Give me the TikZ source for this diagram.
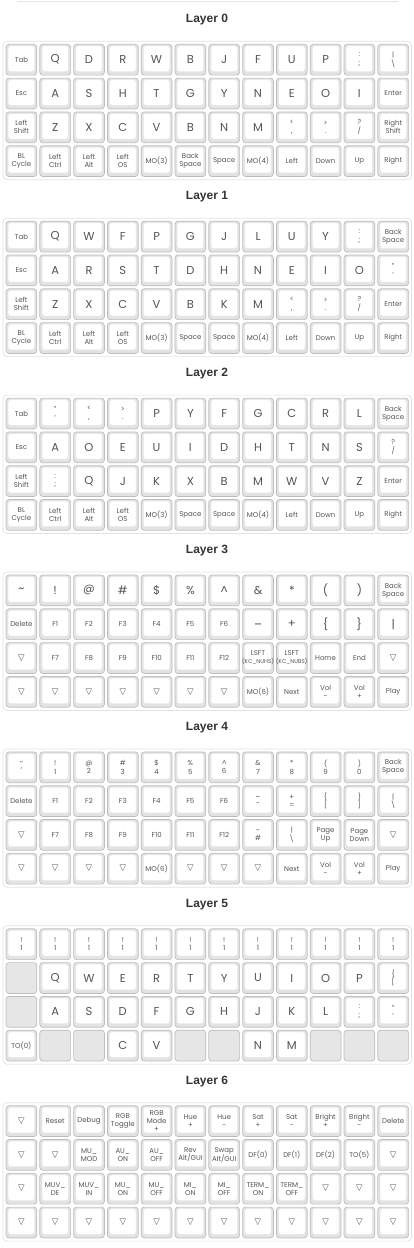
\documentclass[tikz,border=0pt]{standalone}
\usepackage{fontspec}
\setmainfont{Poppins}
\newfontfamily\titlefont{Liberation Sans}
\newfontfamily\symfont{DejaVu Sans}
\definecolor{keyedge}{HTML}{BDBDBD}
\definecolor{keyside}{HTML}{E3E3E3}
\definecolor{facegray}{HTML}{E9E9E9}
\definecolor{keytext}{HTML}{555555}
\definecolor{paneledge}{HTML}{E2E2E2}
\definecolor{titletext}{HTML}{333333}
\definecolor{blankfill}{HTML}{E6E6E6}
\definecolor{hrcol}{HTML}{E4E4E4}

\newcommand\Kb[1]{{\fontsize{11.5}{13}\selectfont #1}}
\newcommand\Kd[2]{#1\\[0.5pt]#2}
\newcommand\Kt{{\symfont\fontsize{8.5}{10}\selectfont ▽}}
\newcommand\Kn[1]{\makebox[0pt]{\fontsize{5.6}{8}\selectfont #1}}
\newcommand\Kx{}
\def\Kxmark{\Kx}

\tikzset{
  keybase/.style={draw=keyedge, rounded corners=3pt, minimum width=30.8pt,
    minimum height=30.8pt, inner sep=0pt, line width=0.7pt},
  key/.style={keybase, fill=keyside, text=keytext, align=center,
    font=\fontsize{7}{8}\selectfont,
    path picture={\filldraw[white, draw=facegray, line width=0.5pt, rounded corners=2.5pt]
      ([shift={(2.2pt,-1.6pt)}]path picture bounding box.north west) rectangle
      ([shift={(-2.2pt,3.6pt)}]path picture bounding box.south east);}},
  blankkey/.style={keybase, fill=blankfill},
  panel/.style={draw=paneledge, fill=white, rounded corners=4pt, line width=0.7pt,
    minimum width=408.5pt, minimum height=138.4pt, inner sep=0pt},
  title/.style={font=\titlefont\bfseries\fontsize{12}{14}\selectfont, text=titletext, inner sep=0pt},
  hrline/.style={draw=hrcol, line width=0.8pt}
}

\newcommand\layerbox[1]{%
  \node[title] (t#1) at (207,{20+176.9*#1}) {Layer #1};
  \node[panel] (p#1) at (207.25,{110.5+176.9*#1}) {};
}
\newcommand\keyrow[3]{%
  \foreach \lab [count=\kc] in {#3}{%
    \ifx\lab\Kxmark
      \node[blankkey] (k-#1-#2-\kc) at ({21.4+33.8*(\kc-1)},{59.7+176.9*#1+33.8*(#2-1)}) {};
    \else
      \node[key] (k-#1-#2-\kc) at ({21.4+33.8*(\kc-1)},{59.7+176.9*#1+33.8*(#2-1)}) {\lab};
    \fi
  }%
}

\begin{document}
\begin{tikzpicture}[x=1pt,y=-1pt]
\useasboundingbox (0,0) rectangle (414,1248);
\draw[hrline] (17,1) -- (398,1);

% Layer 0
\layerbox{0}
\keyrow{0}{1}{Tab,\Kb{Q},\Kb{D},\Kb{R},\Kb{W},\Kb{B},\Kb{J},\Kb{F},\Kb{U},\Kb{P},{\Kd{:}{;}},{\Kd{|}{\textbackslash}}}
\keyrow{0}{2}{Esc,\Kb{A},\Kb{S},\Kb{H},\Kb{T},\Kb{G},\Kb{Y},\Kb{N},\Kb{E},\Kb{O},\Kb{I},Enter}
\keyrow{0}{3}{{Left\\Shift},\Kb{Z},\Kb{X},\Kb{C},\Kb{V},\Kb{B},\Kb{N},\Kb{M},{\Kd{<}{,}},{\Kd{>}{.}},{\Kd{?}{/}},{Right\\Shift}}
\keyrow{0}{4}{{BL\\Cycle},{Left\\Ctrl},{Left\\Alt},{Left\\OS},MO(3),{Back\\Space},Space,MO(4),Left,Down,Up,Right}

% Layer 1
\layerbox{1}
\keyrow{1}{1}{Tab,\Kb{Q},\Kb{W},\Kb{F},\Kb{P},\Kb{G},\Kb{J},\Kb{L},\Kb{U},\Kb{Y},{\Kd{:}{;}},{Back\\Space}}
\keyrow{1}{2}{Esc,\Kb{A},\Kb{R},\Kb{S},\Kb{T},\Kb{D},\Kb{H},\Kb{N},\Kb{E},\Kb{I},\Kb{O},{\Kd{"}{'}}}
\keyrow{1}{3}{{Left\\Shift},\Kb{Z},\Kb{X},\Kb{C},\Kb{V},\Kb{B},\Kb{K},\Kb{M},{\Kd{<}{,}},{\Kd{>}{.}},{\Kd{?}{/}},Enter}
\keyrow{1}{4}{{BL\\Cycle},{Left\\Ctrl},{Left\\Alt},{Left\\OS},MO(3),Space,Space,MO(4),Left,Down,Up,Right}

% Layer 2
\layerbox{2}
\keyrow{2}{1}{Tab,{\Kd{"}{'}},{\Kd{<}{,}},{\Kd{>}{.}},\Kb{P},\Kb{Y},\Kb{F},\Kb{G},\Kb{C},\Kb{R},\Kb{L},{Back\\Space}}
\keyrow{2}{2}{Esc,\Kb{A},\Kb{O},\Kb{E},\Kb{U},\Kb{I},\Kb{D},\Kb{H},\Kb{T},\Kb{N},\Kb{S},{\Kd{?}{/}}}
\keyrow{2}{3}{{Left\\Shift},{\Kd{:}{;}},\Kb{Q},\Kb{J},\Kb{K},\Kb{X},\Kb{B},\Kb{M},\Kb{W},\Kb{V},\Kb{Z},Enter}
\keyrow{2}{4}{{BL\\Cycle},{Left\\Ctrl},{Left\\Alt},{Left\\OS},MO(3),Space,Space,MO(4),Left,Down,Up,Right}

% Layer 3
\layerbox{3}
\keyrow{3}{1}{\Kb{\textasciitilde},\Kb{!},\Kb{@},\Kb{\#},\Kb{\$},\Kb{\%},\Kb{\^{}},\Kb{\&},\Kb{*},\Kb{(},\Kb{)},{Back\\Space}}
\keyrow{3}{2}{Delete,F1,F2,F3,F4,F5,F6,\Kb{\_},\Kb{+},\Kb{\{},\Kb{\}},\Kb{|}}
\keyrow{3}{3}{\Kt,F7,F8,F9,F10,F11,F12,{LSFT\\\Kn{(KC\_NUHS)}},{LSFT\\\Kn{(KC\_NUBS)}},Home,End,\Kt}
\keyrow{3}{4}{\Kt,\Kt,\Kt,\Kt,\Kt,\Kt,\Kt,MO(6),Next,{Vol\\-},{Vol\\+},Play}

% Layer 4
\layerbox{4}
\keyrow{4}{1}{{\Kd{\textasciitilde}{`}},{\Kd{!}{1}},{\Kd{@}{2}},{\Kd{\#}{3}},{\Kd{\$}{4}},{\Kd{\%}{5}},{\Kd{\^{}}{6}},{\Kd{\&}{7}},{\Kd{*}{8}},{\Kd{(}{9}},{\Kd{)}{0}},{Back\\Space}}
\keyrow{4}{2}{Delete,F1,F2,F3,F4,F5,F6,{\Kd{\_}{-}},{\Kd{+}{=}},{\Kd{\{}{[}},{\Kd{\}}{]}},{\Kd{|}{\textbackslash}}}
\keyrow{4}{3}{\Kt,F7,F8,F9,F10,F11,F12,{\Kd{\textasciitilde}{\#}},{\Kd{|}{\textbackslash}},{Page\\Up},{Page\\Down},\Kt}
\keyrow{4}{4}{\Kt,\Kt,\Kt,\Kt,MO(6),\Kt,\Kt,\Kt,Next,{Vol\\-},{Vol\\+},Play}

% Layer 5
\layerbox{5}
\keyrow{5}{1}{{\Kd{!}{1}},{\Kd{!}{1}},{\Kd{!}{1}},{\Kd{!}{1}},{\Kd{!}{1}},{\Kd{!}{1}},{\Kd{!}{1}},{\Kd{!}{1}},{\Kd{!}{1}},{\Kd{!}{1}},{\Kd{!}{1}},{\Kd{!}{1}}}
\keyrow{5}{2}{\Kx,\Kb{Q},\Kb{W},\Kb{E},\Kb{R},\Kb{T},\Kb{Y},\Kb{U},\Kb{I},\Kb{O},\Kb{P},{\Kd{\{}{[}}}
\keyrow{5}{3}{\Kx,\Kb{A},\Kb{S},\Kb{D},\Kb{F},\Kb{G},\Kb{H},\Kb{J},\Kb{K},\Kb{L},{\Kd{:}{;}},{\Kd{"}{'}}}
\keyrow{5}{4}{TO(0),\Kx,\Kx,\Kb{C},\Kb{V},\Kx,\Kx,\Kb{N},\Kb{M},\Kx,\Kx,\Kx}

% Layer 6
\layerbox{6}
\keyrow{6}{1}{\Kt,Reset,Debug,{RGB\\Toggle},{RGB\\Mode\\+},{Hue\\+},{Hue\\-},{Sat\\+},{Sat\\-},{Bright\\+},{Bright\\-},Delete}
\keyrow{6}{2}{\Kt,\Kt,{MU\_\\MOD},{AU\_\\ON},{AU\_\\OFF},{Rev\\Alt/GUI},{Swap\\Alt/GUI},DF(0),DF(1),DF(2),TO(5),\Kt}
\keyrow{6}{3}{\Kt,{MUV\_\\DE},{MUV\_\\IN},{MU\_\\ON},{MU\_\\OFF},{MI\_\\ON},{MI\_\\OFF},{TERM\_\\ON},{TERM\_\\OFF},\Kt,\Kt,\Kt}
\keyrow{6}{4}{\Kt,\Kt,\Kt,\Kt,\Kt,\Kt,\Kt,\Kt,\Kt,\Kt,\Kt,\Kt}
\end{tikzpicture}
\end{document}
